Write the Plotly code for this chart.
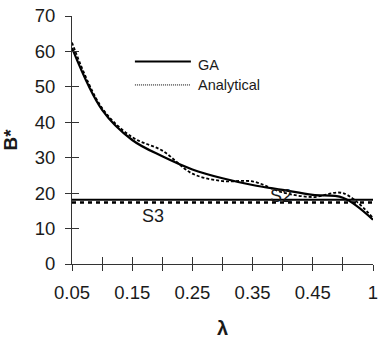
import plotly.graph_objects as go

# categories (lambda)
lam = ["0.05", "0.1", "0.15", "0.2", "0.25", "0.3", "0.35", "0.4", "0.45", "0.5", "1"]
lam_labels = ["0.05", "", "0.15", "", "0.25", "", "0.35", "", "0.45", "", "1"]

# series values (B*)
ga = [61.0, 43.5, 35.0, 30.4, 26.7, 24.2, 22.3, 20.9, 19.5, 18.7, 12.5]
analytical = [62.5, 44.0, 35.8, 32.0, 25.5, 23.4, 23.3, 20.2, 18.9, 20.0, 13.0]
s2_level = 18.1
s3_level = 17.35

FONT = "Liberation Sans, Arial, sans-serif"
INK = "#1a1a1a"

fig = go.Figure()
fig.add_trace(go.Scatter(x=lam, y=analytical, mode="lines",
                         line=dict(color="black", width=1.8, dash="3px,2px", shape="spline", smoothing=1.0),
                         name="Analytical"))
fig.add_trace(go.Scatter(x=lam, y=ga, mode="lines",
                         line=dict(color="black", width=2.2, shape="spline", smoothing=1.0),
                         name="GA"))
fig.add_trace(go.Scatter(x=lam, y=[s2_level] * len(lam), mode="lines",
                         line=dict(color="black", width=2), name="S2"))
fig.add_trace(go.Scatter(x=lam, y=[s3_level] * len(lam), mode="lines",
                         line=dict(color="black", width=2.5, dash="4px,4px"), name="S3"))
# dummy trace so the overlay axes (inner tick halves) are drawn
fig.add_trace(go.Scatter(x=[None], y=[None], xaxis="x2", yaxis="y2", showlegend=False,
                         hoverinfo="skip"))

fig.update_layout(
    width=383, height=342,
    margin=dict(l=72, r=5, t=12, b=78),
    paper_bgcolor="white", plot_bgcolor="white",
    showlegend=False,
    font=dict(family=FONT, color=INK),
    xaxis=dict(type="category", categoryorder="array", categoryarray=lam,
               range=[0, 10], tickmode="array", tickvals=lam, ticktext=lam_labels,
               ticks="outside", ticklen=6, tickwidth=1, tickcolor="#333",
               showline=True, linecolor="#333", linewidth=1,
               showgrid=False, zeroline=False,
               tickfont=dict(size=18.5, family=FONT, color=INK), ticklabelstandoff=6,
               title=dict(text="<b>λ</b>", font=dict(size=20, family=FONT, color=INK), standoff=18)),
    yaxis=dict(range=[0, 70], dtick=10, ticks="outside", ticklen=6, tickwidth=1, tickcolor="#333",
               showline=True, linecolor="#333", linewidth=1,
               showgrid=False, zeroline=False,
               tickfont=dict(size=18.5, family=FONT, color=INK), ticklabelstandoff=6,
               title=dict(text="<b>B*</b>", font=dict(size=19, family=FONT, color=INK), standoff=14)),
    xaxis2=dict(overlaying="x", anchor="y", side="bottom", range=[0, 10], dtick=1,
                ticks="inside", ticklen=7, tickwidth=1, tickcolor="#333",
                showticklabels=False, showgrid=False, zeroline=False, showline=False),
    yaxis2=dict(overlaying="y", anchor="x", side="left", range=[0, 70], dtick=10,
                ticks="inside", ticklen=7, tickwidth=1, tickcolor="#333",
                showticklabels=False, showgrid=False, zeroline=False, showline=False),
)

# manual legend
fig.add_shape(type="line", xref="paper", yref="paper", x0=0.209, x1=0.395, y0=0.817, y1=0.817,
              line=dict(color="black", width=2))
fig.add_shape(type="line", xref="paper", yref="paper", x0=0.209, x1=0.392, y0=0.722, y1=0.722,
              line=dict(color="black", width=1, dash="1px,1px"))
fig.add_annotation(xref="paper", yref="paper", x=0.412, y=0.802, text="GA", showarrow=False,
                   xanchor="left", yanchor="middle", font=dict(size=14.5, family=FONT, color=INK))
fig.add_annotation(xref="paper", yref="paper", x=0.412, y=0.72, text="Analytical", showarrow=False,
                   xanchor="left", yanchor="middle", font=dict(size=14.5, family=FONT, color=INK))

# region labels
fig.add_annotation(x=6.95, y=19.2, text="S2", showarrow=False,
                   font=dict(size=18, family=FONT, color=INK))
fig.add_annotation(x=2.68, y=13.6, text="S3", showarrow=False,
                   font=dict(size=18, family=FONT, color=INK))

fig.write_html("out.html")
